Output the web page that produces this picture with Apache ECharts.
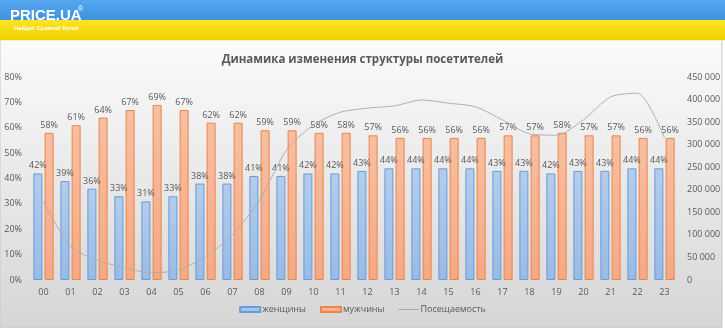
<!DOCTYPE html>
<html>
<head>
<meta charset="utf-8">
<script src="https://cdn.jsdelivr.net/npm/echarts@6/dist/echarts.min.js"></script>
<style>
  html, body { margin: 0; padding: 0; background: #ffffff; }
  #chart { width: 725px; height: 328px; }
</style>
</head>
<body>
<div id="chart"></div>
<script>
// Hours of the day
const hours = ['00','01','02','03','04','05','06','07','08','09','10','11',
               '12','13','14','15','16','17','18','19','20','21','22','23'];
// Share of women / men among visitors, %
const women = [42,39,36,33,31,33,38,38,41,41,42,42,43,44,44,44,44,43,43,42,43,43,44,44];
const men   = [58,61,64,67,69,67,62,62,59,59,58,58,57,56,56,56,56,57,57,58,57,57,56,56];
// Visits per hour
const visits = [174000,74000,44000,27000,16000,22000,52000,100000,177000,288000,344000,372000,
                381000,386000,399000,392000,384000,355000,324000,321000,355000,406000,414000,315000];

const seriesNames = ['женщины', 'мужчины', 'Посещаемость'];
const titleText = 'Динамика изменения структуры посетителей';

const chart = echarts.init(document.getElementById('chart'), null, { renderer: 'canvas' });
const FONT = '"Open Sans", "Liberation Sans", sans-serif';
const txt = '#595959';

function fmtThousands(v) {
  return String(v).replace(/\B(?=(\d{3})+(?!\d))/g, ' ');
}

const option = {
  animation: false,
  backgroundColor: 'transparent',
  graphic: [
    // page background below the banner
    { type: 'rect', z: -10, shape: { x: 0, y: 40, width: 722, height: 288 },
      style: { fill: new echarts.graphic.LinearGradient(0, 0, 0, 1, [
        { offset: 0, color: '#fbfbfb' }, { offset: 1, color: '#d6d6d6' }]),
        stroke: '#c8c8c8', lineWidth: 1 } },
    // banner: blue band
    { type: 'rect', z: -5, shape: { x: 0, y: 0, width: 725, height: 20 },
      style: { fill: new echarts.graphic.LinearGradient(0, 0, 0, 1, [
        { offset: 0, color: '#55a8ee' }, { offset: 1, color: '#3f92df' }]) } },
    // banner: yellow band
    { type: 'rect', z: -5, shape: { x: 0, y: 20, width: 725, height: 20 },
      style: { fill: new echarts.graphic.LinearGradient(0, 0, 0, 1, [
        { offset: 0, color: '#fde524' }, { offset: 1, color: '#efcf00' }]) } },
    { type: 'rect', z: -4, shape: { x: 0, y: 40, width: 725, height: 1 },
      style: { fill: '#f5eec0' } },
    // logo
    { type: 'text', z: 10, left: 10, top: 8,
      style: { text: 'PRICE.UA', fill: '#ffffff', font: 'bold 15px "Liberation Sans", sans-serif',
               shadowColor: 'rgba(0,0,0,0.35)', shadowBlur: 2, shadowOffsetX: 1, shadowOffsetY: 1 } },
    { type: 'text', z: 10, left: 78, top: 6,
      style: { text: '®', fill: '#ffffff', font: '7px "Liberation Sans", sans-serif' } },
    { type: 'text', z: 10, left: 14, top: 25,
      style: { text: 'Найди! Сравни! Купи!', fill: '#ffffff', font: 'bold 6px "Liberation Sans", sans-serif',
               shadowColor: 'rgba(0,0,0,0.3)', shadowBlur: 1, shadowOffsetX: 0.5, shadowOffsetY: 0.5 } }
  ],
  title: {
    text: titleText,
    left: 'center',
    top: 49,
    textStyle: { fontFamily: FONT, fontSize: 11.5, fontWeight: 'bold', color: txt }
  },
  legend: {
    bottom: 9,
    left: 'center',
    itemWidth: 20,
    itemHeight: 5,
    itemGap: 14,
    textStyle: { fontFamily: FONT, fontSize: 9, color: txt, padding: [0, 0, 0, -3] },
    data: [
      { name: seriesNames[0], icon: 'rect' },
      { name: seriesNames[1], icon: 'rect' },
      { name: seriesNames[2], icon: 'path://M0,0H20V1H0Z',
        itemStyle: { color: '#a6a6a6', borderWidth: 0 } }
    ]
  },
  grid: { left: 30, right: 47, top: 77, bottom: 48 },
  xAxis: {
    type: 'category',
    data: hours,
    axisTick: { show: false },
    axisLine: { show: false },
    axisLabel: { fontFamily: FONT, fontSize: 9, color: txt, margin: 8 }
  },
  yAxis: [
    {
      type: 'value', min: 0, max: 80, interval: 10,
      splitLine: { show: false },
      axisLine: { show: false }, axisTick: { show: false },
      axisLabel: { fontFamily: FONT, fontSize: 9, color: txt, margin: 8, formatter: '{value}%' }
    },
    {
      type: 'value', min: 0, max: 450000, interval: 50000,
      splitLine: { show: false },
      axisLine: { show: false }, axisTick: { show: false },
      axisLabel: { fontFamily: FONT, fontSize: 9, color: txt, margin: 9, formatter: fmtThousands }
    }
  ],
  series: [
    {
      name: seriesNames[0], type: 'bar', data: women, barWidth: 9, barGap: '25%',
      itemStyle: {
        color: new echarts.graphic.LinearGradient(0, 0, 0, 1, [
          { offset: 0, color: '#b3cdec' }, { offset: 1, color: '#98bbe5' }]),
        borderColor: '#6a9bd8', borderWidth: 1
      },
      label: { show: true, position: 'top', distance: 3, formatter: '{c}%',
               fontFamily: FONT, fontSize: 9, color: txt },
      z: 2
    },
    {
      name: seriesNames[1], type: 'bar', data: men, barWidth: 9,
      itemStyle: {
        color: new echarts.graphic.LinearGradient(0, 0, 0, 1, [
          { offset: 0, color: '#f8bfa2' }, { offset: 1, color: '#f5a985' }]),
        borderColor: '#ed8449', borderWidth: 1
      },
      label: { show: true, position: 'top', distance: 3, formatter: '{c}%',
               fontFamily: FONT, fontSize: 9, color: txt },
      z: 2
    },
    {
      name: seriesNames[2], type: 'line', yAxisIndex: 1, data: visits,
      symbol: 'none', smooth: 0.25,
      lineStyle: { color: '#b0b0b0', width: 1 },
      itemStyle: { color: '#b0b0b0' },
      z: 3
    }
  ]
};

chart.setOption(option);
</script>
</body>
</html>
